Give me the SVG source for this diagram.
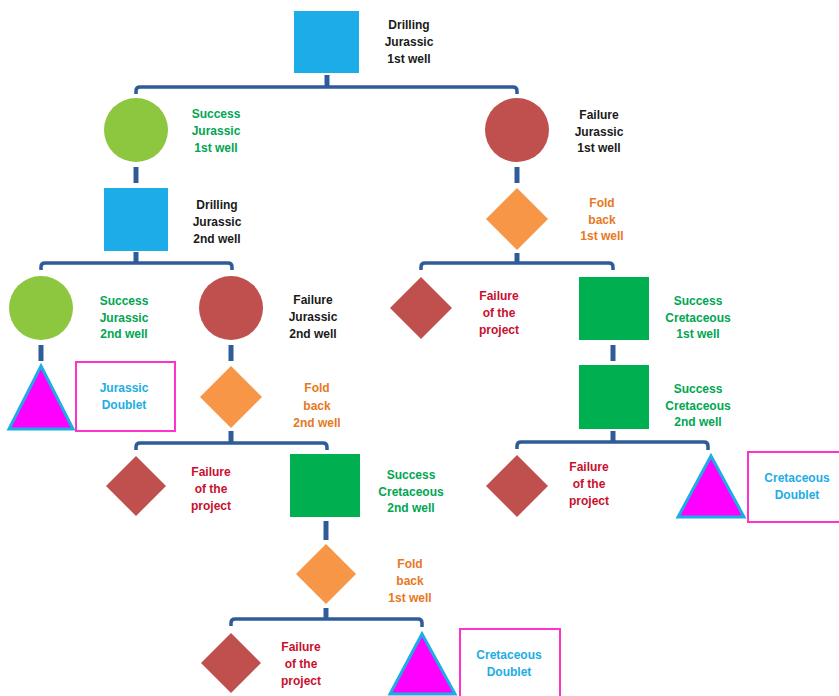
<svg xmlns="http://www.w3.org/2000/svg" width="839" height="696" viewBox="0 0 839 696">
<style>
.conn{fill:none;stroke:#2F5C99;stroke-width:3.5;stroke-linejoin:round}
.stub{stroke:#2F5C99;stroke-width:5}
.t{font-family:"Liberation Sans",Arial,sans-serif;font-weight:bold;font-size:12px;text-anchor:middle}
.blk{fill:#1a1a1a}.grn{fill:#00A651}.red{fill:#C8102E}.org{fill:#E87722}.cyn{fill:#1CADE4}
.bsq{fill:#1CADE8}.gsq{fill:#00B050}.gc{fill:#8DC63F}.rc{fill:#C0504D}.od{fill:#F79646}.rd{fill:#C0504D}
.tri{fill:#FF00FF;stroke:#1CADE4;stroke-width:3;stroke-linejoin:miter}
.box{fill:#fff;stroke:#FF33CC;stroke-width:2}
</style>
<rect width="839" height="696" fill="#fff"/>
<g id="connectors">
<line class="stub" x1="327" y1="75" x2="327" y2="87"/>
<path class="conn" d="M136,94 V91 Q136,87 140,87 H513 Q517,87 517,91 V94"/>
<line class="stub" x1="136" y1="167" x2="136" y2="183"/>
<line class="stub" x1="517" y1="167" x2="517" y2="183"/>
<line class="stub" x1="136" y1="252" x2="136" y2="263"/>
<path class="conn" d="M41,270 V267 Q41,263 45,263 H228 Q232,263 232,267 V270"/>
<line class="stub" x1="517" y1="253" x2="517" y2="263"/>
<path class="conn" d="M421,270 V267 Q421,263 425,263 H609 Q613,263 613,267 V270"/>
<line class="stub" x1="41" y1="345" x2="41" y2="361"/>
<line class="stub" x1="231" y1="345" x2="231" y2="361"/>
<line class="stub" x1="613" y1="345" x2="613" y2="361"/>
<line class="stub" x1="231" y1="431" x2="231" y2="443"/>
<path class="conn" d="M136,450 V447 Q136,443 140,443 H323 Q327,443 327,447 V450"/>
<line class="stub" x1="613" y1="431" x2="613" y2="442"/>
<path class="conn" d="M517,449 V446 Q517,442 521,442 H704 Q708,442 708,446 V450"/>
<line class="stub" x1="326" y1="521" x2="326" y2="540"/>
<line class="stub" x1="326" y1="608" x2="326" y2="619"/>
<path class="conn" d="M231,626 V623 Q231,619 235,619 H418 Q422,619 422,623 V627"/>
</g>
<g id="drill1">
<rect class="bsq" x="294" y="11" width="65" height="62"/>
<text class="t blk" x="409" y="29">Drilling</text><text class="t blk" x="409" y="46">Jurassic</text><text class="t blk" x="409" y="63">1st well</text>
</g>
<g id="successJ1">
<circle class="gc" cx="136" cy="130" r="32"/>
<text class="t grn" x="216" y="118">Success</text><text class="t grn" x="216" y="135">Jurassic</text><text class="t grn" x="216" y="152">1st well</text>
</g>
<g id="failureJ1">
<circle class="rc" cx="517" cy="130" r="32"/>
<text class="t blk" x="599" y="119">Failure</text><text class="t blk" x="599" y="136">Jurassic</text><text class="t blk" x="599" y="152">1st well</text>
</g>
<g id="drill2">
<rect class="bsq" x="104" y="188" width="64" height="63"/>
<text class="t blk" x="217" y="209">Drilling</text><text class="t blk" x="217" y="226">Jurassic</text><text class="t blk" x="217" y="243">2nd well</text>
</g>
<g id="foldback1">
<polygon class="od" points="517,188 548,219 517,250 486,219"/>
<text class="t org" x="602" y="207">Fold</text><text class="t org" x="602" y="224">back</text><text class="t org" x="602" y="240">1st well</text>
</g>
<g id="successJ2">
<circle class="gc" cx="41" cy="308" r="32"/>
<text class="t grn" x="124" y="305">Success</text><text class="t grn" x="124" y="322">Jurassic</text><text class="t grn" x="124" y="338">2nd well</text>
</g>
<g id="failureJ2">
<circle class="rc" cx="231" cy="308" r="32"/>
<text class="t blk" x="313" y="304">Failure</text><text class="t blk" x="313" y="321">Jurassic</text><text class="t blk" x="313" y="338">2nd well</text>
</g>
<g id="failureProj1">
<polygon class="rd" points="421,277 452,308 421,339 390,308"/>
<text class="t red" x="499" y="300">Failure</text><text class="t red" x="499" y="317">of the</text><text class="t red" x="499" y="334">project</text>
</g>
<g id="successC1">
<rect class="gsq" x="579" y="277" width="70" height="63"/>
<text class="t grn" x="698" y="305">Success</text><text class="t grn" x="698" y="322">Cretaceous</text><text class="t grn" x="698" y="338">1st well</text>
</g>
<g id="jurassicDoublet">
<polygon class="tri" points="41,366 73,429 9,429"/>
<rect class="box" x="76" y="362" width="99" height="69"/>
<text class="t cyn" x="124" y="392">Jurassic</text><text class="t cyn" x="124" y="409">Doublet</text>
</g>
<g id="foldback2">
<polygon class="od" points="231,366 262,397 231,428 200,397"/>
<text class="t org" x="317" y="392">Fold</text><text class="t org" x="317" y="410">back</text><text class="t org" x="317" y="427">2nd well</text>
</g>
<g id="successC2r">
<rect class="gsq" x="579" y="365" width="70" height="64"/>
<text class="t grn" x="698" y="393">Success</text><text class="t grn" x="698" y="410">Cretaceous</text><text class="t grn" x="698" y="426">2nd well</text>
</g>
<g id="failureProj2">
<polygon class="rd" points="136,456 166,486 136,516 106,486"/>
<text class="t red" x="211" y="476">Failure</text><text class="t red" x="211" y="493">of the</text><text class="t red" x="211" y="510">project</text>
</g>
<g id="successC2">
<rect class="gsq" x="290" y="454" width="70" height="63"/>
<text class="t grn" x="411" y="479">Success</text><text class="t grn" x="411" y="496">Cretaceous</text><text class="t grn" x="411" y="512">2nd well</text>
</g>
<g id="failureProj3">
<polygon class="rd" points="517,455 548,486 517,517 486,486"/>
<text class="t red" x="589" y="471">Failure</text><text class="t red" x="589" y="488">of the</text><text class="t red" x="589" y="505">project</text>
</g>
<g id="cretaceousDoublet1">
<polygon class="tri" points="711,456 744,517 678,517"/>
<rect class="box" x="748" y="452" width="96" height="70"/>
<text class="t cyn" x="797" y="482">Cretaceous</text><text class="t cyn" x="797" y="499">Doublet</text>
</g>
<g id="foldback3">
<polygon class="od" points="326,544 356,574 326,604 296,574"/>
<text class="t org" x="410" y="568">Fold</text><text class="t org" x="410" y="585">back</text><text class="t org" x="410" y="602">1st well</text>
</g>
<g id="failureProj4">
<polygon class="rd" points="231,633 261,663 231,693 201,663"/>
<text class="t red" x="301" y="651">Failure</text><text class="t red" x="301" y="668">of the</text><text class="t red" x="301" y="685">project</text>
</g>
<g id="cretaceousDoublet2">
<polygon class="tri" points="422,634 455,694 390,694"/>
<rect class="box" x="460" y="629" width="100" height="75"/>
<text class="t cyn" x="509" y="659">Cretaceous</text><text class="t cyn" x="509" y="676">Doublet</text>
</g>
</svg>
